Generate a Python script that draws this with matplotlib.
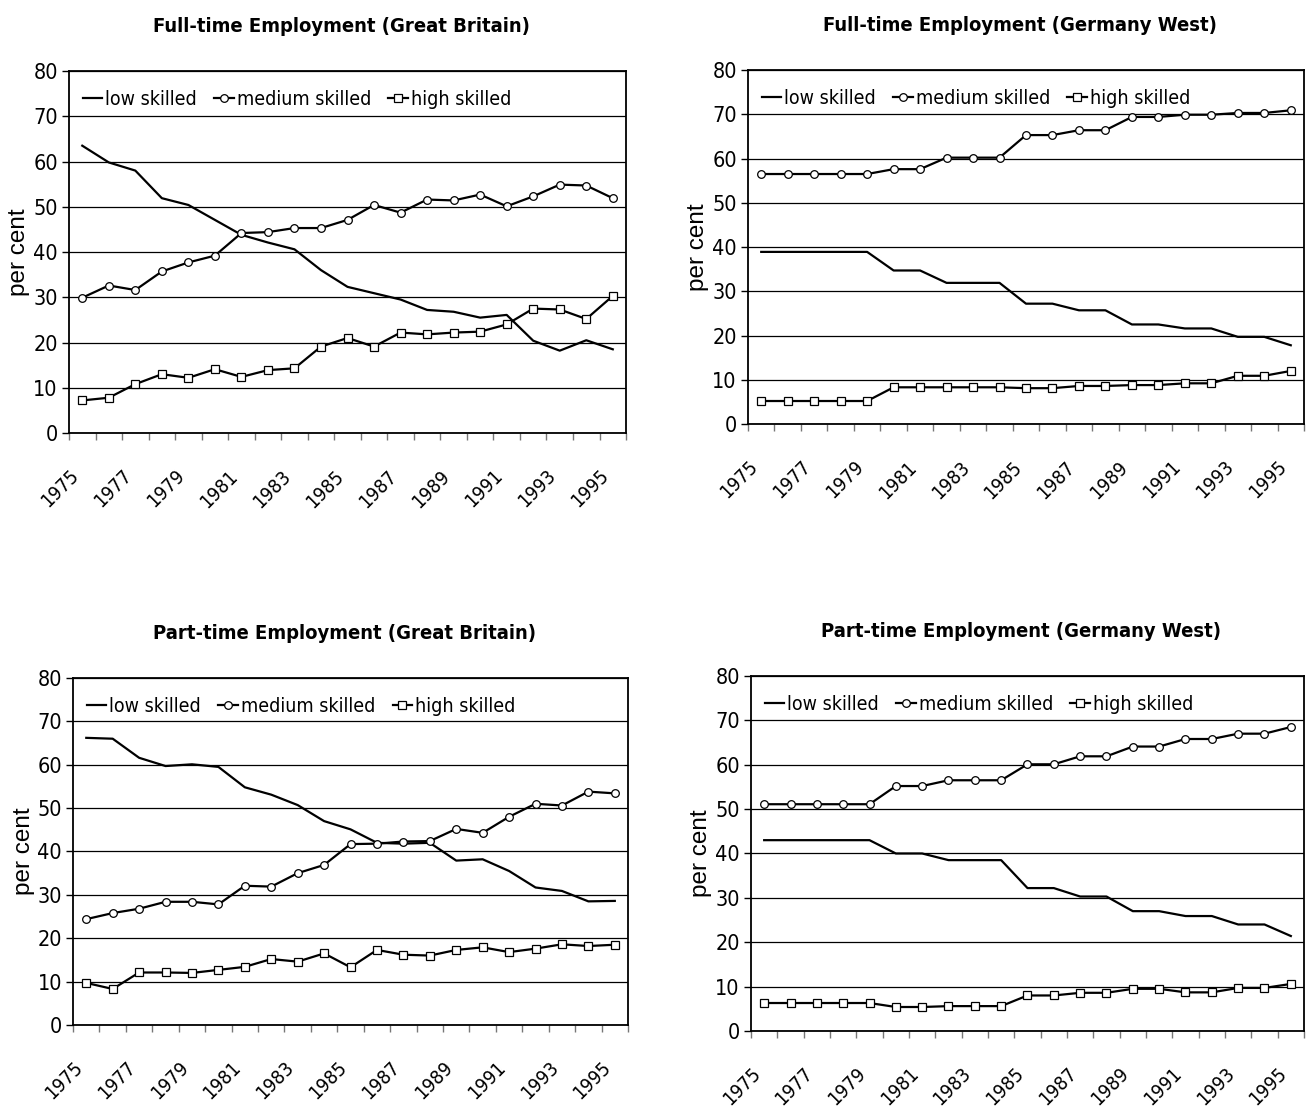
import numpy as np
import matplotlib
matplotlib.use("Agg")
import matplotlib.pyplot as plt
from matplotlib.ticker import FixedLocator, NullFormatter

years = list(range(1975, 1996))
year_labels = [str(y) for y in years]

# Full-time employment, Great Britain
ft_gb_low = [63.5, 59.8, 58.0, 51.9, 50.4, 47.1, 43.8, 42.1, 40.6, 36.0, 32.3,
             30.9, 29.5, 27.2, 26.8, 25.5, 26.1, 20.4, 18.2, 20.5, 18.5]
ft_gb_med = [29.9, 32.6, 31.6, 35.7, 37.7, 39.2, 44.2, 44.4, 45.3, 45.3, 47.1,
             50.4, 48.7, 51.6, 51.4, 52.7, 50.1, 52.3, 54.9, 54.7, 51.9]
ft_gb_high = [7.2, 7.8, 10.8, 13.0, 12.2, 14.1, 12.4, 13.9, 14.3, 19.1, 21.0,
              19.1, 22.2, 21.8, 22.2, 22.4, 24.0, 27.5, 27.3, 25.2, 30.3]

# Full-time employment, Germany West
ft_de_low = [38.9, 38.9, 38.9, 38.9, 38.9, 34.7, 34.7, 31.9, 31.9, 31.9, 27.2,
             27.2, 25.7, 25.7, 22.5, 22.5, 21.6, 21.6, 19.7, 19.7, 17.8]
ft_de_med = [56.5, 56.5, 56.5, 56.5, 56.5, 57.6, 57.6, 60.2, 60.2, 60.2, 65.3,
             65.3, 66.4, 66.4, 69.4, 69.4, 69.9, 69.9, 70.3, 70.3, 70.9]
ft_de_high = [5.2, 5.2, 5.2, 5.2, 5.2, 8.3, 8.3, 8.3, 8.3, 8.3, 8.1,
              8.1, 8.6, 8.6, 8.8, 8.8, 9.2, 9.2, 10.9, 10.9, 12.0]

# Part-time employment, Great Britain
pt_gb_low = [66.2, 66.0, 61.6, 59.7, 60.1, 59.5, 54.8, 53.1, 50.7, 47.0, 45.1,
             42.0, 41.8, 42.0, 37.9, 38.2, 35.5, 31.7, 30.9, 28.5, 28.6]
pt_gb_med = [24.4, 25.8, 26.8, 28.4, 28.4, 27.8, 32.1, 31.9, 35.0, 36.9, 41.7,
             41.8, 42.3, 42.4, 45.2, 44.3, 48.0, 51.0, 50.6, 53.8, 53.4]
pt_gb_high = [9.7, 8.3, 12.1, 12.1, 12.0, 12.7, 13.4, 15.2, 14.6, 16.5, 13.3,
              17.3, 16.2, 16.0, 17.3, 17.9, 16.8, 17.6, 18.6, 18.2, 18.5]

# Part-time employment, Germany West
pt_de_low = [43.0, 43.0, 43.0, 43.0, 43.0, 40.0, 40.0, 38.5, 38.5, 38.5, 32.2,
             32.2, 30.3, 30.3, 27.0, 27.0, 25.9, 25.9, 24.0, 24.0, 21.4]
pt_de_med = [51.1, 51.1, 51.1, 51.1, 51.1, 55.2, 55.2, 56.5, 56.5, 56.5, 60.1,
             60.1, 61.9, 61.9, 64.1, 64.1, 65.8, 65.8, 67.0, 67.0, 68.5]
pt_de_high = [6.3, 6.3, 6.3, 6.3, 6.3, 5.4, 5.4, 5.6, 5.6, 5.6, 8.0,
              8.0, 8.6, 8.6, 9.5, 9.5, 8.7, 8.7, 9.7, 9.7, 10.6]

series_names = ["low skilled", "medium skilled", "high skilled"]

panels = [
    ("Full-time Employment (Great Britain)", ft_gb_low, ft_gb_med, ft_gb_high,
     [0.0528, 0.6099, 0.4262, 0.3261]),
    ("Full-time Employment (Germany West)", ft_de_low, ft_de_med, ft_de_high,
     [0.5723, 0.6180, 0.4254, 0.3189]),
    ("Part-time Employment (Great Britain)", pt_gb_low, pt_gb_med, pt_gb_high,
     [0.0559, 0.0766, 0.4246, 0.3126]),
    ("Part-time Employment (Germany West)", pt_de_low, pt_de_med, pt_de_high,
     [0.5746, 0.0712, 0.4231, 0.3198]),
]

# narrow look, like Arial Narrow in the original
plt.rcParams["font.family"] = ["DejaVu Sans"]
plt.rcParams["font.stretch"] = "condensed"

fig = plt.figure(figsize=(13.07, 11.10), dpi=100)

x = np.arange(len(years))
for title, low, med, high, rect in panels:
    ax = fig.add_axes(rect)
    ax.set_axisbelow(True)
    ax.yaxis.grid(True, color="black", linewidth=0.9)

    ax.plot(x, low, color="black", lw=1.6, label=series_names[0])
    ax.plot(x, med, color="black", lw=1.6, marker="o", ms=5.5,
            mfc="white", mec="black", mew=0.9, label=series_names[1])
    ax.plot(x, high, color="black", lw=1.6, marker="s", ms=5.5,
            mfc="white", mec="black", mew=0.9, label=series_names[2])

    ax.set_xlim(-0.5, len(years) - 0.5)
    ax.set_ylim(0, 80)
    ax.set_yticks(range(0, 81, 10))
    ax.tick_params(axis="y", labelsize=15.5, length=5, width=1, pad=3)

    # category axis: ticks on boundaries, labels at every other category
    ax.xaxis.set_major_locator(FixedLocator(np.arange(-0.5, len(years), 1.0)))
    ax.xaxis.set_major_formatter(NullFormatter())
    ax.xaxis.set_minor_locator(FixedLocator(x[::2]))
    ax.set_xticklabels(year_labels[::2], minor=True, rotation=45,
                       ha="right", va="top")
    ax.tick_params(axis="x", which="major", length=5, width=1, color="#777777")
    ax.tick_params(axis="x", which="minor", length=0, labelsize=14, pad=24)

    for s in ax.spines.values():
        s.set_linewidth(1.3)
        s.set_color("black")

    ax.set_ylabel("per cent", family="Liberation Sans", fontstretch="normal",
                  fontsize=17.5, labelpad=2)

    ax.legend(loc="upper left", ncol=3, frameon=False, fontsize=14,
              handlelength=1.0, handletextpad=0.15, columnspacing=0.9,
              borderaxespad=0.3, bbox_to_anchor=(0.0, 0.985))

    cx = rect[0] + rect[2] / 2 - 0.005
    ty = rect[1] + rect[3] + 0.04
    fig.text(cx, ty, title, ha="center", va="center", fontsize=14.5,
             fontweight="bold")

fig.savefig("out.png", dpi=100)
